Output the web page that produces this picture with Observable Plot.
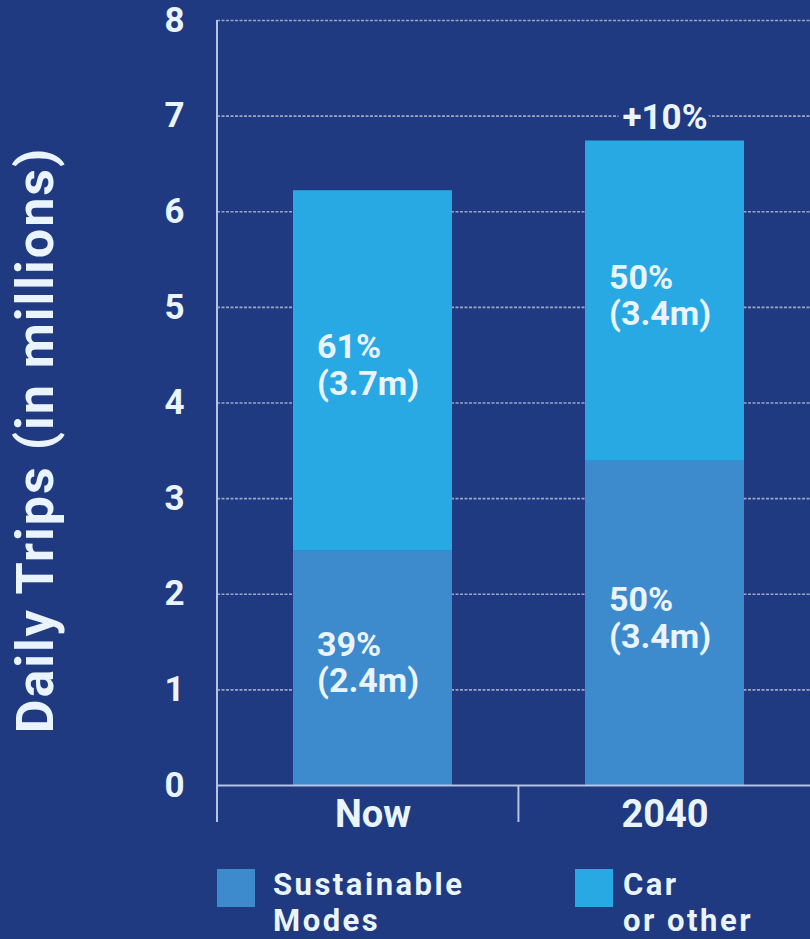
<!DOCTYPE html>
<html>
<head>
<meta charset="utf-8">
<script src="https://cdn.jsdelivr.net/npm/d3@7"></script>
<script src="https://cdn.jsdelivr.net/npm/@observablehq/plot@0.6"></script>
<style>
  html, body { margin: 0; padding: 0; background: #1f3a80; }
  #wrap { position: relative; width: 810px; height: 939px; overflow: hidden; background: #1f3a80; font-family: Roboto, "Noto Sans", sans-serif; font-weight: bold; color: #eaf4ff; }
  #ylabel { position: absolute; left: 36px; top: 440px; transform: translate(-50%, -50%) rotate(-90deg); white-space: nowrap; font-size: 52px; letter-spacing: 2px; line-height: 1; }
  #legend { position: absolute; top: 867px; left: 0; width: 810px; height: 72px; }
  .item { position: absolute; top: 0; display: flex; align-items: flex-start; }
  .swatch { width: 38px; height: 38px; flex: none; margin-top: 2px; }
  .ltext { font-size: 31px; line-height: 35.5px; letter-spacing: 2.5px; }
</style>
</head>
<body>
<div id="wrap">
  <div id="chart"></div>
  <div id="ylabel"></div>
  <div id="legend"></div>
</div>
<script>
// ---- data ----
const categories = ["Now", "2040"];
const modes = ["Sustainable Modes", "Car or other"];
const sustainable = [2.45, 3.39];
const car = [3.77, 3.35];
const sustainableLabels = ["39%\n(2.4m)", "50%\n(3.4m)"];
const carLabels = ["61%\n(3.7m)", "50%\n(3.4m)"];
const growthLabel = "+10%";
const growthCategory = "2040";
const yTicks = [0, 1, 2, 3, 4, 5, 6, 7, 8];
const yTitle = "Daily Trips (in millions)";
const legendLines = [["Sustainable", "Modes"], ["Car", "or other"]];

// ---- style ----
const bg = "#1f3a80";
const textColor = "#eaf4ff";
const colors = ["#3d8bcd", "#28a9e4"];
const lineColor = "#b4c3e6";

const rows = [];
categories.forEach((c, i) => {
  rows.push({category: c, mode: modes[0], value: sustainable[i], label: sustainableLabels[i]});
  rows.push({category: c, mode: modes[1], value: car[i], label: carLabels[i]});
});
const gi = categories.indexOf(growthCategory);
const growth = [{category: growthCategory, total: sustainable[gi] + car[gi], label: growthLabel}];

const paddingInner = 0.456;

function axisLines(index, scales, values, dimensions) {
  const x = scales.x, y = scales.y;
  const step = x(categories[1]) - x(categories[0]);
  const bw = step * (1 - paddingInner);
  const y0 = y(0);
  const yTop = y(yTicks[yTicks.length - 1]);
  const g = d3.create("svg:g")
    .attr("stroke", lineColor)
    .attr("stroke-width", 2);
  g.append("line")
    .attr("x1", dimensions.marginLeft).attr("x2", dimensions.marginLeft)
    .attr("y1", yTop).attr("y2", y0 + 37);
  for (let i = 0; i < categories.length - 1; i++) {
    const sx = (x(categories[i]) + bw + x(categories[i + 1])) / 2;
    g.append("line")
      .attr("x1", sx).attr("x2", sx)
      .attr("y1", y0).attr("y2", y0 + 37);
  }
  return g.node();
}

const chart = Plot.plot({
  width: 810,
  height: 850,
  marginTop: 20,
  marginBottom: 65,
  marginLeft: 217,
  marginRight: 0,
  style: {background: "transparent", color: textColor, fontFamily: "Roboto", fontWeight: "bold", overflow: "visible"},
  x: {domain: categories, paddingInner: paddingInner, paddingOuter: 0.24, align: 0.537, label: null},
  y: {domain: [0, 8], label: null},
  color: {domain: modes, range: colors},
  marks: [
    Plot.ruleY(yTicks.filter(d => d > 0), {stroke: "#ffffff", strokeOpacity: 0.55, strokeWidth: 1.6, strokeDasharray: "3,1.5"}),
    Plot.barY(rows, {x: "category", y: "value", fill: "mode"}),
    Plot.text(rows, Plot.stackY({x: "category", y: "value", z: "mode", text: "label", textAnchor: "start", dx: -56, dy: -6, fontSize: 34, fontWeight: "bold", lineHeight: 1.08, fill: textColor})),
    Plot.text(growth, {x: "category", y: "total", text: "label", dy: -23, fontSize: 35, fontWeight: "bold", fill: textColor, stroke: bg, strokeWidth: 10}),
    Plot.ruleY([0], {stroke: lineColor, strokeWidth: 2}),
    axisLines,
    Plot.axisY({ticks: yTicks, tickSize: 0, tickPadding: 33, fontSize: 35, fontWeight: "bold", label: null}),
    Plot.axisX({tickSize: 0, tickPadding: 15, fontSize: 38, fontWeight: "bold", label: null})
  ]
});
document.getElementById("chart").appendChild(chart);
document.getElementById("ylabel").textContent = yTitle;

const legend = document.getElementById("legend");
const lefts = [217, 575];
modes.forEach((m, i) => {
  const item = document.createElement("div");
  item.className = "item";
  item.style.left = lefts[i] + "px";
  const sw = document.createElement("div");
  sw.className = "swatch";
  sw.style.background = colors[i];
  sw.style.marginRight = (i === 0 ? 18 : 10) + "px";
  const t = document.createElement("div");
  t.className = "ltext";
  t.innerHTML = legendLines[i].join("<br>");
  item.appendChild(sw);
  item.appendChild(t);
  legend.appendChild(item);
});
</script>
</body>
</html>
